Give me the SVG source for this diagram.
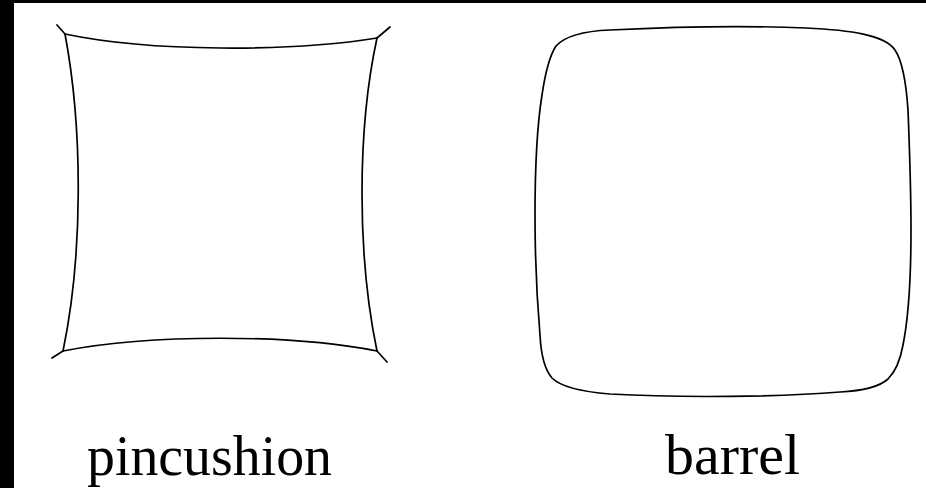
<svg xmlns="http://www.w3.org/2000/svg" width="926" height="488" viewBox="0 0 926 488">
<style>
.ln{fill:none;stroke:#000;stroke-width:1.7;stroke-linejoin:round;stroke-linecap:round}
.lbl{font-family:"Liberation Serif","Times New Roman",serif;font-size:57px;fill:#000}
</style>
<rect x="0" y="0" width="926" height="488" fill="#000"/>
<rect x="14" y="3" width="912" height="485" fill="#fff"/>
<g id="pincushion">
<path class="ln" d="M65,34 C150,52 290,52 377,38"/>
<path class="ln" d="M63,351 C150,334 290,334 377,351"/>
<path class="ln" d="M65,34 C83,130 83,255 63,351"/>
<path class="ln" d="M377,38 C357,130 357,255 377,351"/>
<path class="ln" d="M57,25 L65,34 M390,27 L377,38 M52,358 L63,351 M387,362 L377,351"/>
<text class="lbl" x="87" y="475" textLength="245" lengthAdjust="spacingAndGlyphs">pincushion</text>
</g>
<g id="barrel">
<path class="ln" d="M610,30 C690,26 760,26 806,28 C850,30 885,35 895,50 C901,59 906,80 908,110 C910,160 911,200 911,230 C911,280 908,320 903,345 C900,362 895,372 888,379 C878,388 860,391 840,392 C780,397 680,398 610,394 C585,392 562,388 552,378 C545,370 541,355 540,335 C537,300 535,250 535,215 C535,160 538,120 542,95 C546,68 550,55 556,46 C565,36 585,31 610,30 Z"/>
<text class="lbl" x="665" y="474" textLength="135" lengthAdjust="spacingAndGlyphs">barrel</text>
</g>
<g id="connectors"/>
</svg>
